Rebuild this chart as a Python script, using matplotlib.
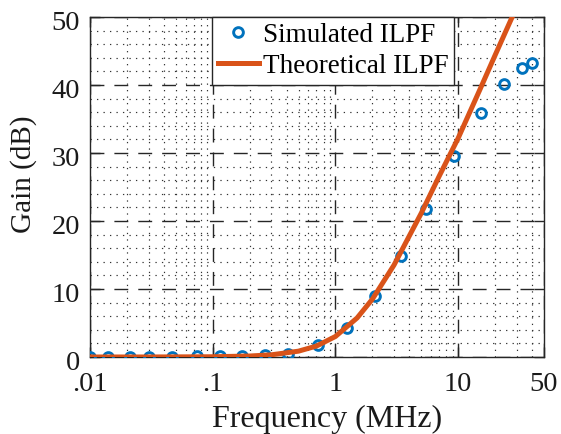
import numpy as np
import matplotlib
matplotlib.use("Agg")
import matplotlib.pyplot as plt
from matplotlib.ticker import FixedLocator, NullFormatter
from matplotlib.transforms import ScaledTranslation

plt.rcParams['font.family'] = ['Liberation Serif', 'DejaVu Serif']

# Simulated ILPF (markers)
sim_freq = [0.01, 0.014, 0.021, 0.030, 0.047, 0.0745, 0.114, 0.174, 0.265, 0.41,
            0.718, 1.24, 2.11, 3.42, 5.46, 9.27, 15.3, 23.4, 33.4, 40.2]
sim_gain = [0.05, 0.05, 0.05, 0.05, 0.05, 0.08, 0.1, 0.15, 0.3, 0.5,
            1.7, 4.2, 8.9, 14.9, 21.7, 29.5, 35.9, 40.2, 42.5, 43.3]

# Theoretical ILPF (line)
th_freq = [0.01, 0.03, 0.1, 0.2, 0.3, 0.5, 0.7, 1.0, 1.5, 2.0, 3.0, 5.0, 7.0, 10.0, 15.0, 20.0, 28.0]
th_gain = [0.0, 0.003, 0.036, 0.143, 0.32, 0.86, 1.61, 3.02, 5.74, 8.51, 13.53, 21.15, 26.6, 32.2, 39.3, 44.4, 50.3]

xticks = [0.01, 0.1, 1, 10, 50]
xticklabels = ['.01', '.1', '1', '10', '50']
yticks = [0, 10, 20, 30, 40, 50]

TXT = '#1a1a1a'
fig = plt.figure(figsize=(5.61, 4.34), dpi=100)
ax = fig.add_axes([90/561, 1-357/434, (544-90)/561, (357-17)/434])

ax.plot(sim_freq, sim_gain, linestyle='none', marker='o', markersize=7,
        markerfacecolor='none', markeredgecolor='#0072BD', markeredgewidth=2.1,
        label='Simulated ILPF', zorder=3)
ax.plot(th_freq, th_gain, color='#D95319', linewidth=3.6, label='Theoretical ILPF', zorder=4)

ax.set_xscale('log')
ax.set_xlim(0.01, 50)
ax.set_ylim(0, 50)
ax.set_xticks(xticks)
ax.set_xticklabels(xticklabels)
ax.set_yticks(yticks)
minor_x = [m * 10.0**e for e in range(-2, 2) for m in range(2, 10) if m * 10.0**e < 50]
ax.xaxis.set_minor_locator(FixedLocator(minor_x))
ax.xaxis.set_minor_formatter(NullFormatter())
ax.yaxis.set_minor_locator(FixedLocator([v for v in range(2, 50, 2) if v % 10 != 0]))

ax.grid(True, which='major', linestyle=(0, (10, 7.2)), color='#262626', linewidth=1.0)
ax.grid(True, which='minor', linestyle=(0, (1.1, 4.4)), color='#333333', linewidth=0.85)

ax.tick_params(which='major', direction='in', length=7, width=1.0, labelsize=20.5,
               top=True, right=True, colors='#262626', labelcolor=TXT)
ax.tick_params(axis='y', which='major', pad=7)
ax.tick_params(axis='x', which='major', pad=11)
ax.tick_params(which='minor', length=0)
for s in ax.spines.values():
    s.set_linewidth(1.0)
    s.set_color('#262626')
for lab in ax.get_yticklabels():
    lab.set_transform(lab.get_transform() + ScaledTranslation(0, -3/100, fig.dpi_scale_trans))

ax.set_xlabel('Frequency (MHz)', fontsize=23, color=TXT, labelpad=4)
ax.xaxis.set_label_coords((327-90)/454, -0.14)
ax.xaxis.label.set_va('top')
ax.set_ylabel('Gain (dB)', fontsize=21, color=TXT)
ax.yaxis.set_label_coords(-(90-24)/454, (357-174)/340)
ax.yaxis.label.set_va('center')

leg = ax.legend(loc='upper left', bbox_to_anchor=((212-90)/454, 1.0), borderaxespad=0,
                prop={'size': 19.5}, frameon=True, fancybox=False, edgecolor='#262626',
                framealpha=1, handlelength=1.5, borderpad=0.22, labelspacing=0.22,
                handletextpad=0.15)
leg.get_frame().set_linewidth(1.0)

fig.savefig('out.png', dpi=100)
